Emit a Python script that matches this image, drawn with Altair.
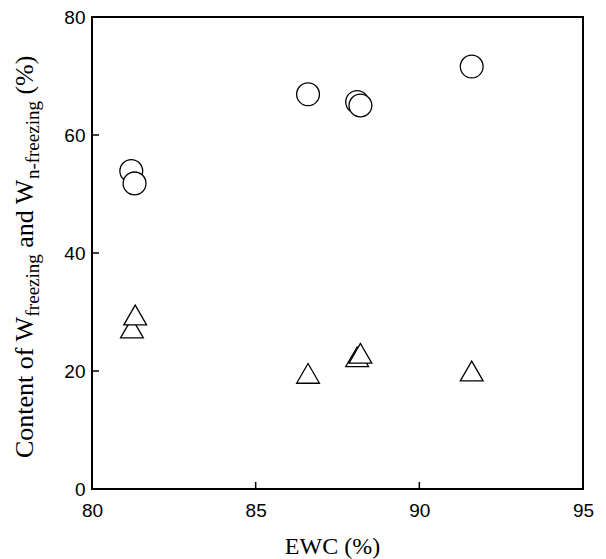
import altair as alt
import pandas as pd

# ---- data ----
ewc_freezing = [81.2, 81.3, 86.6, 88.1, 88.2, 91.6]
w_freezing = [53.9, 51.8, 66.9, 65.6, 65.0, 71.6]
ewc_nfreezing = [81.22, 81.32, 86.6, 88.1, 88.2, 91.6]
w_nfreezing = [27.3, 29.5, 19.6, 22.4, 23.0, 20.0]
x_ticks = [80, 85, 90, 95]
y_ticks = [0, 20, 40, 60, 80]
x_inner_ticks = [85, 90]
y_inner_ticks = [20, 40, 60]

df = pd.DataFrame({
    "ewc": ewc_freezing + ewc_nfreezing,
    "val": w_freezing + w_nfreezing,
    "kind": ["freezing"] * len(ewc_freezing) + ["n-freezing"] * len(ewc_nfreezing),
})

W, H = 491, 472
SERIF = "Liberation Serif"
SANS = "Liberation Sans"
TICK = 7

xs = alt.Scale(domain=[80, 95], nice=False, zero=False)
ys = alt.Scale(domain=[0, 80], nice=False)

points = alt.Chart(df).mark_point(
    filled=True, fill="white", stroke="black", strokeWidth=1.3, opacity=1, size=520
).encode(
    x=alt.X("ewc:Q", scale=xs, axis=alt.Axis(
        values=x_ticks, title="EWC (%)", domain=False, ticks=False, grid=False,
        labelFlush=False, labelOverlap=False,
        labelFont=SANS, labelFontSize=19, labelColor="black", labelPadding=12,
        titleFont=SERIF, titleFontSize=24, titleFontWeight="normal", titleColor="black",
        titleBaseline="alphabetic", titleY=64, titleX=240)),
    y=alt.Y("val:Q", scale=ys, axis=alt.Axis(
        values=y_ticks, title=None, domain=False, ticks=False, grid=False,
        labelFlush=False, labelOverlap=False,
        labelFont=SANS, labelFontSize=19, labelColor="black", labelPadding=7)),
    shape=alt.Shape("kind:N", scale=alt.Scale(domain=["freezing", "n-freezing"],
                                               range=["circle", "triangle-up"]), legend=None),
)

xt = alt.Chart(pd.DataFrame({"t": x_inner_ticks})).mark_rule(
    color="black", strokeWidth=1.5
).encode(x=alt.X("t:Q", scale=xs), y=alt.value(H), y2=alt.value(H - TICK))

yt = alt.Chart(pd.DataFrame({"t": y_inner_ticks})).mark_rule(
    color="black", strokeWidth=1.5
).encode(y=alt.Y("t:Q", scale=ys), x=alt.value(0), x2=alt.value(TICK))

# ---- y-axis title with subscripts, built from pieces ----
adv = {"C": .667, "o": .5, "n": .5, "t": .278, "e": .444, " ": .25, "f": .333, "W": .944,
       "r": .333, "z": .444, "i": .278, "g": .5, "a": .444, "d": .5, "-": .333,
       "(": .333, "%": .833, ")": .333}
M, S = 26, 19
pieces = [("Content of W", M), ("freezing", S), (" and W", M), ("n-freezing", S), (" (%)", M)]
base_main, base_sub = -59, -53
ypos = 441
title_layers = []
for txt, sz in pieces:
    lead = 0
    shown = txt
    if txt.startswith(" "):
        lead = adv[" "] * sz
        shown = txt.strip()
    ypos -= lead
    title_layers.append(
        alt.Chart(alt.Data(values=[{"a": 1}])).mark_text(
            angle=270, align="left", baseline="alphabetic", font=SERIF, fontSize=sz,
            color="black"
        ).encode(x=alt.value(base_main if sz == M else base_sub), y=alt.value(ypos),
                 text=alt.value(shown))
    )
    ypos -= sum(adv[c] for c in shown) * sz

chart = alt.layer(points, xt, yt, *title_layers).properties(
    width=W, height=H,
    background="white",
    autosize=alt.AutoSizeParams(type="none"),
    padding={"left": 84, "top": 9, "right": 15, "bottom": 80},
).configure_view(stroke="black", strokeWidth=2)

chart.save("out.html", embed_options={"renderer": "svg", "actions": False})
